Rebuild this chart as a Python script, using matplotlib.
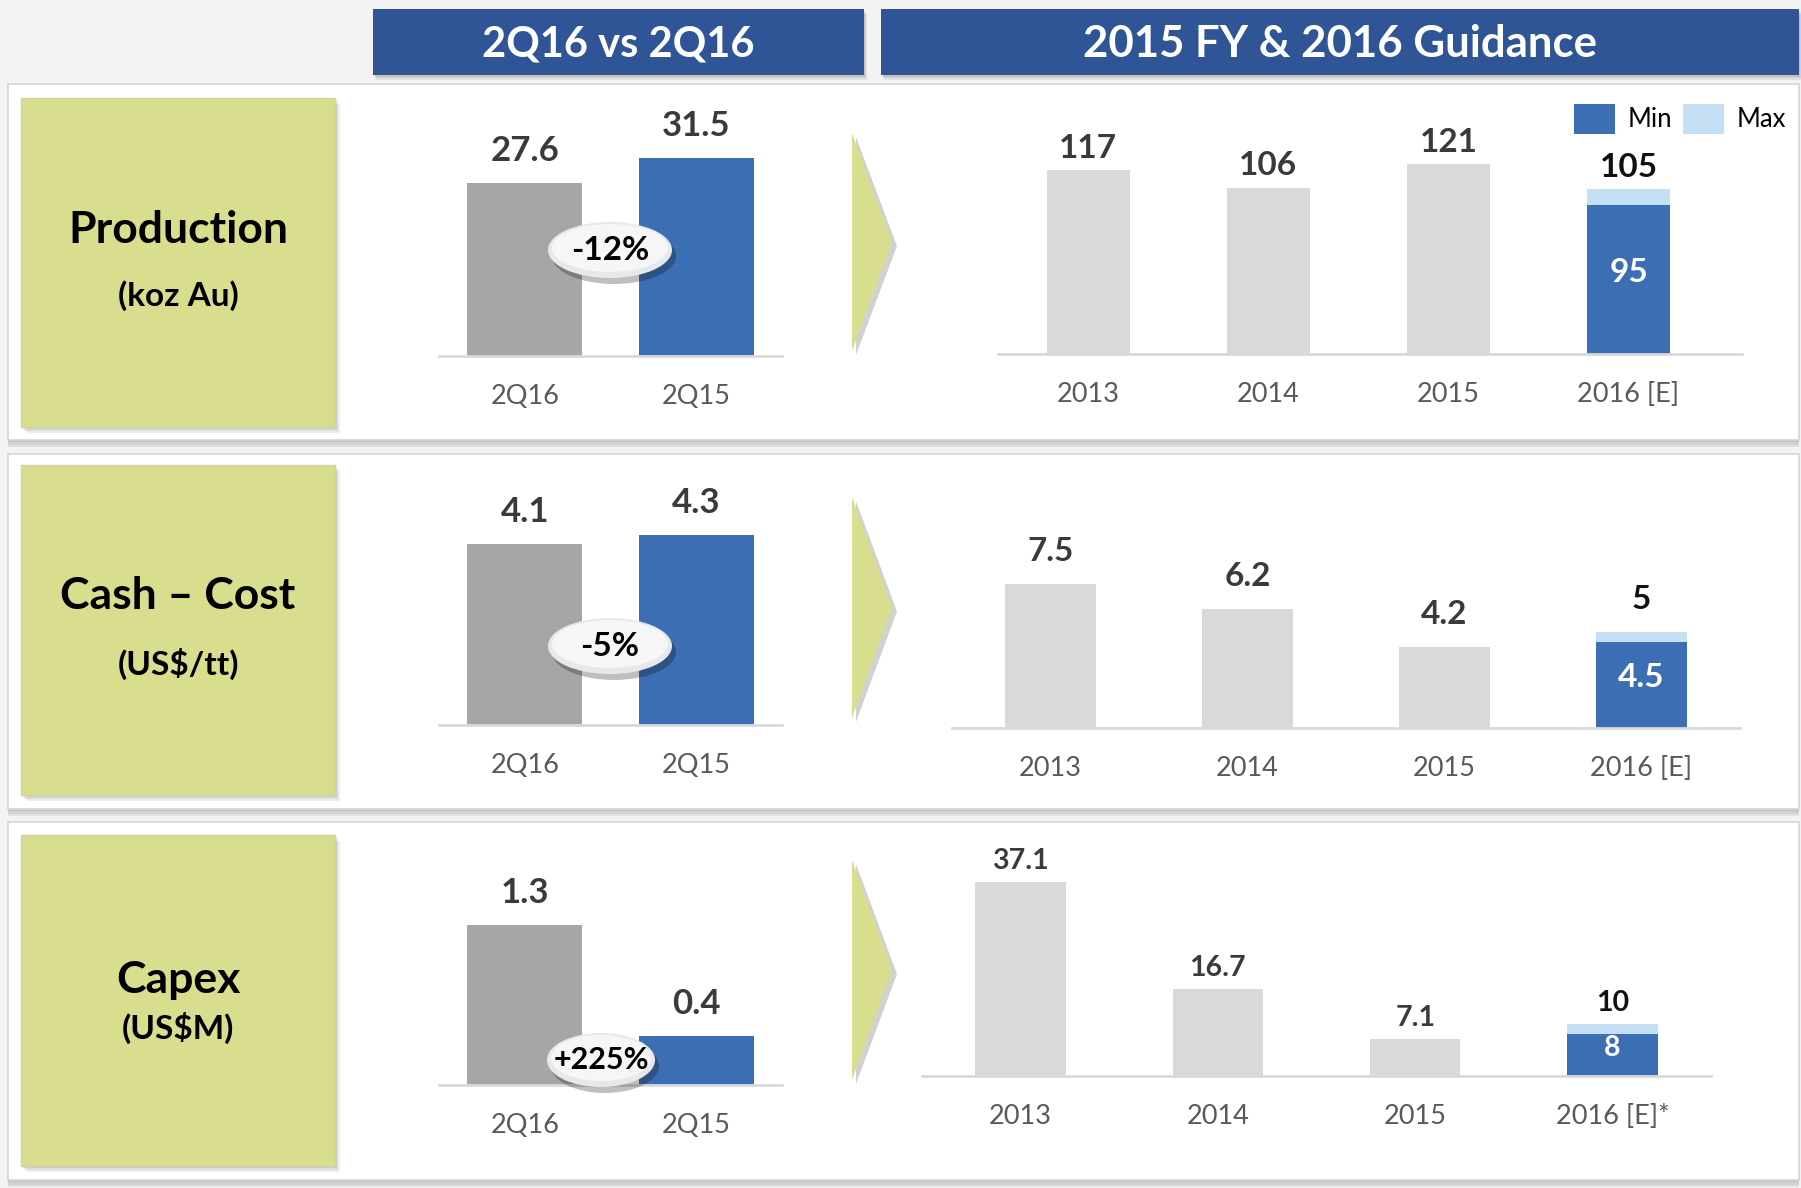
import matplotlib.pyplot as plt
from matplotlib.patches import Rectangle, Polygon, Ellipse

W, H = 1801, 1188

# data
quarters = ['2Q16', '2Q15']
years = ['2013', '2014', '2015', '2016 [E]']
years_capex = ['2013', '2014', '2015', '2016 [E]*']

prod_q = [27.6, 31.5]
cash_q = [4.1, 4.3]
capex_q = [1.3, 0.4]
changes = ['-12%', '-5%', '+225%']

prod_fy = [117, 106, 121]
cash_fy = [7.5, 6.2, 4.2]
capex_fy = [37.1, 16.7, 7.1]
guide_min = [95, 4.5, 8]
guide_max = [105, 5, 10]

row_titles = ['Production', 'Cash – Cost', 'Capex']
row_units = ['(koz Au)', '(US$/tt)', '(US$M)']
headers = ['2Q16 vs 2Q16', '2015 FY & 2016 Guidance']

# colours
HDR = '#2f5597'
GRAY_Q = '#a6a6a6'
BLUE = '#3c6eb4'
LIGHT = '#c5dff5'
GRAY_FY = '#d9d9d9'
GREEN = '#d8de8e'
TXT = '#3a3a3a'
TICK = '#595959'

plt.rcParams['font.family'] = ['Lato', 'DejaVu Sans']

# layout of each row, in pixels of the full picture
rows = [
    dict(panel=(84, 440), box=(98, 427), title_y=230, unit_y=296, arrow=(133, 351),
         q_base=356, q_ppu=6.27, fy_x=(998, 1742), fy_xlim=(-0.5, 3.63),
         fy_base=354, fy_ppu=1.569, pill=(610, 250, 124, 56), off=22, fs=24),
    dict(panel=(454, 809), box=(465, 795), title_y=596, unit_y=664, arrow=(497, 718),
         q_base=725, q_ppu=44.1, fy_x=(952, 1740), fy_xlim=(-0.5, 3.5),
         fy_base=728, fy_ppu=19.18, pill=(610, 646, 124, 56), off=33, fs=24),
    dict(panel=(822, 1180), box=(835, 1166), title_y=980, unit_y=1028, arrow=(860, 1080),
         q_base=1085, q_ppu=123, fy_x=(922, 1711), fy_xlim=(-0.5, 3.5),
         fy_base=1076, fy_ppu=5.23, pill=(601, 1060, 108, 54), off=21, fs=20.5),
]
q_data = [prod_q, cash_q, capex_q]
fy_data = [prod_fy, cash_fy, capex_fy]
fy_ticks = [years, years, years_capex]

fig = plt.figure(figsize=(W / 100, H / 100), dpi=100)
fig.patch.set_facecolor('#f3f3f3')


def px_axes(x0, y0, x1, y1, z=1):
    return fig.add_axes([x0 / W, 1 - y1 / H, (x1 - x0) / W, (y1 - y0) / H], zorder=z)


def soft_shadow(ax, x0, y0, x1, y1, dx=4, dy=6):
    for i in range(4):
        ax.add_patch(Rectangle((x0 + dx * i / 3, y0 + dy * i / 3), x1 - x0, y1 - y0,
                               color='black', alpha=0.07, lw=0))


bg = px_axes(0, 0, W, H, z=0)
bg.set_xlim(0, W)
bg.set_ylim(H, 0)
bg.axis('off')

# headers
for (x0, x1), txt, fs in zip([(373, 864), (881, 1799)], headers, [30, 31.5]):
    soft_shadow(bg, x0, 9, x1, 75, dx=3, dy=5)
    bg.add_patch(Rectangle((x0, 9), x1 - x0, 66, color=HDR, lw=0))
    bg.text((x0 + x1) / 2, 44, txt, color='white', fontsize=fs, fontweight='bold',
            ha='center', va='center')

for r, title, unit in zip(rows, row_titles, row_units):
    p0, p1 = r['panel']
    soft_shadow(bg, 8, p0, 1799, p1, dx=0, dy=7)
    bg.add_patch(Rectangle((8, p0), 1791, p1 - p0, fc='white', ec='#d6d6d6', lw=1.2))
    b0, b1 = r['box']
    soft_shadow(bg, 21, b0, 335, b1, dx=5, dy=6)
    bg.add_patch(Rectangle((21, b0), 314, b1 - b0, fc=GREEN, ec='#cfd3a0', lw=1))
    bg.text(178, r['title_y'], title, fontsize=32, fontweight='bold', ha='center', va='center')
    bg.text(178, r['unit_y'], unit, fontsize=24, fontweight='bold', ha='center', va='center')
    a0, a1 = r['arrow']
    am = (a0 + a1) / 2
    bg.add_patch(Polygon([(856, a0 + 4), (897, am + 4), (856, a1 + 4)], color='black', alpha=0.18, lw=0))
    bg.add_patch(Polygon([(852, a0), (892, am), (852, a1)], color=GREEN, lw=0))

ov = px_axes(0, 0, W, H, z=10)
ov.set_xlim(0, W)
ov.set_ylim(H, 0)
ov.axis('off')
ov.patch.set_alpha(0)


def style(ax, ticks):
    ax.set_facecolor('none')
    for s in ['top', 'left', 'right']:
        ax.spines[s].set_visible(False)
    ax.spines['bottom'].set_color('#d9d9d9')
    ax.spines['bottom'].set_linewidth(2)
    ax.set_yticks([])
    ax.set_xticks(range(len(ticks)), ticks)
    ax.tick_params(axis='x', length=0, pad=20, labelsize=19.5, labelcolor=TICK)


for k, r in enumerate(rows):
    top = r['panel'][0] + 4

    # quarter comparison
    ax = px_axes(439, top, 782, r['q_base'], z=2)
    vals = q_data[k]
    ax.bar(range(2), vals, width=0.67, color=[GRAY_Q, BLUE])
    ax.set_xlim(-0.5, 1.5)
    ax.set_ylim(0, (r['q_base'] - top) / r['q_ppu'])
    style(ax, quarters)
    for i, v in enumerate(vals):
        ax.annotate(f'{v:g}', (i, v), xytext=(0, 32 * 0.72), textcoords='offset points',
                    ha='center', va='center', fontsize=25, fontweight='bold', color=TXT)

    cx, cy, pw, ph = r['pill']
    ov.add_patch(Ellipse((cx + 4, cy + 6), pw, ph, color='black', alpha=0.25, lw=0))
    ov.add_patch(Ellipse((cx, cy), pw, ph, fc='#e6e8ec', ec='none'))
    ov.add_patch(Ellipse((cx, cy - 2), pw - 8, ph - 8, fc='#f6f6f7', ec='none'))
    ov.text(cx, cy, changes[k], fontsize=24 if k < 2 else 22, fontweight='bold',
            ha='center', va='center')

    # full year and guidance
    x0, x1 = r['fy_x']
    ax = px_axes(x0, top, x1, r['fy_base'], z=2)
    fy = fy_data[k]
    ax.bar(range(3), fy, width=0.46, color=GRAY_FY)
    mn = ax.bar(3, guide_min[k], width=0.46, color=BLUE)
    mx = ax.bar(3, guide_max[k] - guide_min[k], bottom=guide_min[k], width=0.46, color=LIGHT)
    ax.set_xlim(*r['fy_xlim'])
    ax.set_ylim(0, (r['fy_base'] - top) / r['fy_ppu'])
    style(ax, fy_ticks[k])
    for i, v in enumerate(fy + [guide_max[k]]):
        ax.annotate(f'{v:g}', (i, v), xytext=(0, r['off'] * 0.72), textcoords='offset points',
                    ha='center', va='center', fontsize=r['fs'], fontweight='bold',
                    color='#111111' if i == 3 else TXT)
    ax.annotate(f'{guide_min[k]:g}', (3, guide_min[k] / 2), xytext=(0, 5), textcoords='offset points',
                ha='center', va='center', fontsize=r['fs'], fontweight='bold', color='white')

    if k == 0:
        ax.legend([mn, mx], ['Min', 'Max'], loc='upper right', ncol=2, frameon=False,
                  bbox_to_anchor=(1786 / W, 1 - 104 / H), bbox_transform=fig.transFigure,
                  fontsize=18.5, handlelength=1.6, handleheight=1.4, handletextpad=0.5,
                  columnspacing=0.4, borderaxespad=0, borderpad=0)

fig.savefig('out.png', dpi=100, facecolor=fig.get_facecolor())
